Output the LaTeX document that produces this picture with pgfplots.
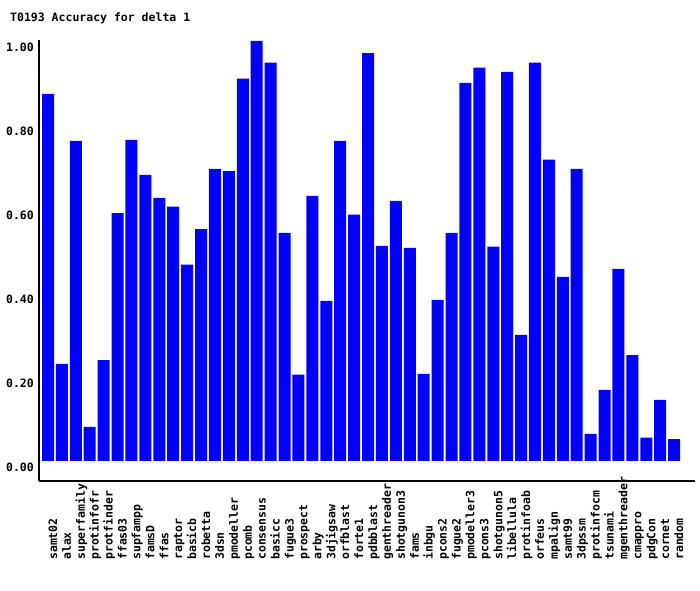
\documentclass[border=0pt]{standalone}
\usepackage{fontspec}
\setmainfont{DejaVu Sans Mono}[BoldFont={* Bold}]
\usepackage{pgfplots}
\pgfplotsset{compat=1.18}
\definecolor{barblue}{RGB}{0,0,255}
\begin{document}
\begin{tikzpicture}
\useasboundingbox (0,0) rectangle (700pt,590pt);
\begin{axis}[
  at={(39pt,109pt)}, anchor=south west,
  scale only axis, width=656pt, height=441pt,
  xmin=-0.647, xmax=46.5, ymin=-0.048, ymax=1.002,
  axis lines*=left,
  axis line style={line width=1.6pt, black},
  clip=false,
  ybar, bar width=12pt,
  major tick length=0pt,
  xtick={0,...,45},
  xticklabels={samt02,alax,superfamily,protinfofr,protfinder,ffas03,supfampp,famsD,ffas,raptor,basicb,robetta,3dsn,pmodeller,pcomb,consensus,basicc,fugue3,prospect,arby,3djigsaw,orfblast,forte1,pdbblast,genthreader,shotgunon3,fams,inbgu,pcons2,fugue2,pmodeller3,pcons3,shotgunon5,libellula,protinfoab,orfeus,mpalign,samt99,3dpssm,protinfocm,tsunami,mgenthreader,cmappro,pdgCon,cornet,random},
  xticklabel style={xshift=9pt, yshift=-79pt, rotate=90, anchor=base west, inner sep=0pt, font=\fontsize{11.5}{12}\selectfont\bfseries},
  ytick={0,0.2,0.4,0.6,0.8,1.0},
  yticklabel style={yshift=-6pt, xshift=-5pt, anchor=east, inner sep=0pt, font=\fontsize{11.5}{12}\selectfont\bfseries},
  /pgf/number format/assume math mode=true,
  yticklabel={\pgfmathprintnumber[fixed, fixed zerofill, precision=2]{\tick}},
]
\addplot[fill=barblue, draw=none] coordinates {
(0,0.874) (1,0.231) (2,0.762) (3,0.081) (4,0.240) (5,0.590) (6,0.764) (7,0.681) (8,0.626) (9,0.605)
(10,0.467) (11,0.552) (12,0.695) (13,0.690) (14,0.910) (15,1.000) (16,0.948) (17,0.543) (18,0.205) (19,0.631)
(20,0.381) (21,0.762) (22,0.586) (23,0.971) (24,0.512) (25,0.619) (26,0.507) (27,0.207) (28,0.383) (29,0.543)
(30,0.900) (31,0.936) (32,0.510) (33,0.926) (34,0.300) (35,0.948) (36,0.717) (37,0.438) (38,0.695) (39,0.064)
(40,0.169) (41,0.457) (42,0.252) (43,0.055) (44,0.145) (45,0.052)
};
\end{axis}
\node[anchor=base west, inner sep=0pt, font=\fontsize{11.5}{12}\selectfont\bfseries] at (10pt,568.3pt) {T0193 Accuracy for delta 1};
\end{tikzpicture}
\end{document}
